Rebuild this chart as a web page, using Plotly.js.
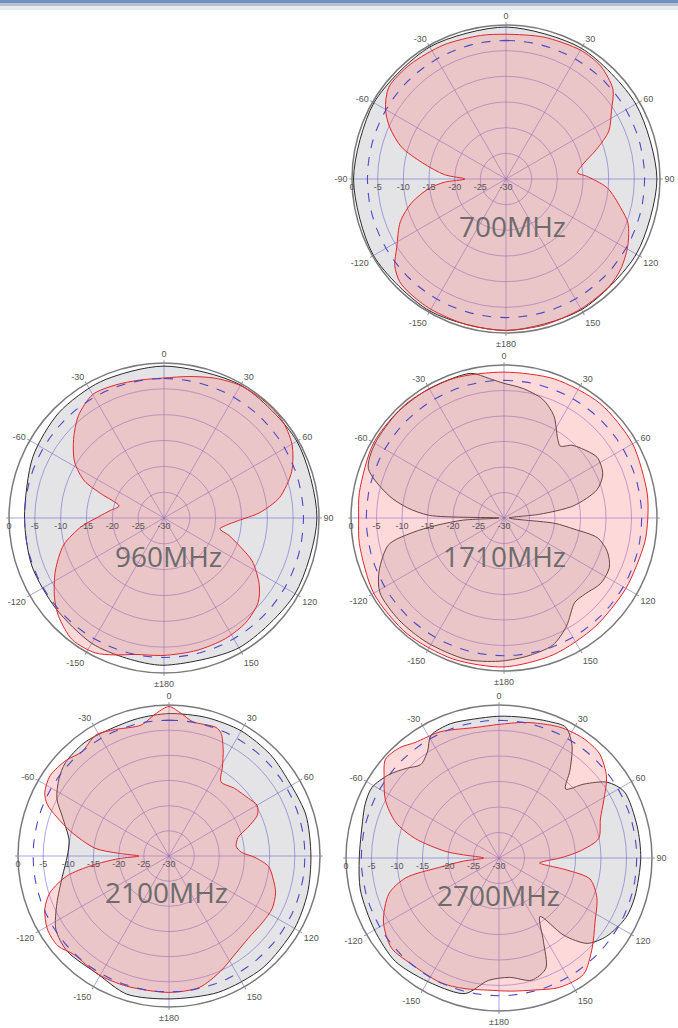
<!DOCTYPE html>
<html>
<head>
<meta charset="utf-8">
<script src="https://cdn.plot.ly/plotly-3.0.1.min.js"></script>
<style>
  html, body { margin: 0; padding: 0; background: #ffffff; }
  #chart { width: 678px; height: 1028px; }
</style>
</head>
<body>
<div id="chart"></div>
<script>
// ---------- tick labels ----------
const angTickVals = [0, 30, 60, 90, 120, 150, 180, 210, 240, 270, 300, 330];
const angText700  = ['0', '30', '60', '90', '120', '150', '\u00b1180', '-150', '-120', '-90', '-60', '-30'];
const angText960  = ['0', '30', '60', '90', '120', '150', '\u00b1180', '-150', '-120', '', '-60', '-30'];
const angText1710 = ['0', '30', '60', '', '120', '150', '\u00b1180', '-150', '-120', '', '-60', '-30'];
const angText2100 = ['0', '30', '60', '', '120', '150', '\u00b1180', '-150', '-120', '', '-60', '-30'];
const angText2700 = ['0', '30', '60', '90', '120', '150', '\u00b1180', '-150', '-120', '', '-60', '-30'];
const radTickVals = [0, -5, -10, -15, -20, -25, -30];
const radTickText = ['0', '-5', '-10', '-15', '-20', '-25', '-30'];
const refLevelDb = -3;
const bandLabels = ['700MHz', '960MHz', '1710MHz', '2100MHz', '2700MHz'];

// ---------- 700 MHz ----------
const theta700Grey = [0, 30, 60, 90, 120, 150, 180, 210, 240, 270, 300, 330];
const r700Grey     = [-0.4, -0.6, -0.8, -0.6, -0.7, -0.6, -0.5, -0.3, -0.2, -0.3, -0.3, -0.3];
const theta700Red = [0, 15, 30, 40, 50, 57, 65, 72, 79, 85, 88, 95, 104, 110, 119, 128, 136, 150, 165, 180,
                     195, 210, 220, 226, 232, 238, 248, 256, 263, 267, 270, 274, 281, 287, 294, 300, 308, 320, 335, 350];
const r700Red     = [-1.8, -1.4, -1.0, -1.3, -2.8, -5.5, -7.9, -11.5, -14.7, -16.0, -14.3, -10.2, -7.0, -4.7, -2.9, -1.6, -1.0, -0.8, -0.6, -0.5,
                     -0.6, -0.7, -0.9, -1.2, -2.5, -4.9, -7.8, -11.1, -14.9, -18.0, -22.0, -18.0, -13.4, -8.7, -5.2, -2.9, -1.0, -0.9, -1.2, -1.6];

// ---------- 960 MHz ----------
const theta960Grey = [0, 30, 60, 90, 120, 150, 180, 195, 210, 230, 250, 270, 295, 315, 335];
const r960Grey     = [-0.6, -0.3, -0.3, -0.4, -0.7, -1.0, -1.5, -1.9, -2.0, -2.7, -2.8, -3.0, -2.0, -1.2, -0.9];
const theta960Red = [0, 10, 20, 30, 40, 50, 60, 70, 80, 87, 92, 97, 101, 105, 110, 116, 125, 132, 142, 153, 166, 180,
                     192, 200, 207, 217, 227, 234, 244, 255, 264, 271, 278, 285, 291, 295, 302, 311, 320, 330, 340, 350];
const r960Red     = [-2.9, -2.2, -1.2, -0.4, -0.2, -0.3, -1.4, -3.7, -7.3, -11.6, -15.6, -18.0, -19.0, -17.0, -14.6, -11.0, -7.5, -5.5, -4.3, -3.8, -3.6, -3.4,
                     -3.0, -1.8, -0.7, -0.5, -2.1, -3.8, -6.6, -9.9, -13.9, -17.3, -19.5, -21.0, -17.0, -13.0, -9.6, -6.8, -4.2, -2.4, -2.6, -2.9];

// ---------- 1710 MHz ----------
const theta1710Grey = [0, 8, 18, 26, 34, 38, 43, 48, 57, 66, 73, 80, 84, 90, 96, 99, 102, 108, 115, 124, 133, 140, 150, 159, 171, 182,
                       195, 212, 226, 239, 247, 257, 261, 264, 267, 270, 272, 276, 281, 290, 300, 315, 330, 347, 354];
const r1710Grey     = [-3.6, -4.3, -5.5, -7.7, -11.2, -12.1, -10.5, -9.6, -8.2, -8.8, -10.9, -16.1, -23.0, -29.0, -20.0, -16.1, -11.2, -8.7, -7.2, -7.1, -8.2, -8.4, -5.5, -3.3, -2.5, -1.9,
                       -1.3, -1.3, -1.3, -1.6, -3.4, -6.8, -11.9, -17.0, -22.0, -29.0, -15.4, -11.0, -7.0, -1.7, -0.8, -0.6, -0.7, -0.9, -2.5];
const theta1710Red = [0, 20, 40, 60, 80, 90, 100, 120, 140, 160, 180, 200, 220, 240, 260, 270, 280, 300, 320, 340];
const r1710Red     = [-1.4, -1.0, -0.7, -0.9, -1.5, -1.8, -2.0, -2.4, -2.2, -1.5, -0.8, -0.6, -0.4, -0.5, -1.2, -1.5, -1.2, -0.5, -0.5, -0.9];

// ---------- 2100 MHz ----------
const theta2100Grey = [0, 15, 30, 45, 55, 73, 90, 105, 120, 140, 160, 180, 197, 211, 227, 237, 247, 259, 270, 279, 290, 297, 305, 312, 323, 334, 347];
const r2100Grey     = [-1.7, -1.5, -1.3, -1.5, -1.9, -1.6, -1.8, -1.5, -1.2, -1.0, -1.2, -1.6, -1.3, -2.6, -2.3, -3.2, -5.8, -8.4, -9.8, -9.9, -7.5, -5.0, -3.3, -2.3, -1.9, -2.2, -2.0];
const theta2100Red = [0, 5, 10, 20, 23, 27, 31, 35, 44, 54, 60, 65, 70, 75, 82, 87, 91, 96, 103, 109, 117, 125, 136, 146, 156, 167, 180,
                      198, 211, 224, 231, 239, 247, 253, 259, 263, 267, 270, 273, 276, 284, 289, 293, 297, 304, 313, 320, 329, 337, 348, 355];
const r2100Red     = [-0.3, -1.6, -2.9, -2.8, -3.5, -6.3, -9.4, -12.0, -11.3, -10.5, -9.8, -10.6, -13.3, -15.8, -16.5, -15.6, -12.9, -10.1, -8.7, -7.6, -7.0, -7.2, -7.3, -6.5, -4.9, -3.2, -2.9,
                      -2.8, -2.6, -2.8, -1.6, -1.8, -3.2, -5.3, -9.4, -14.5, -20.0, -24.0, -20.0, -15.2, -9.9, -6.5, -3.7, -2.3, -1.5, -2.1, -3.0, -1.9, -2.7, -3.4, -1.5];

// ---------- 2700 MHz ----------
const theta2700Grey = [0, 10, 20, 27, 33, 39, 44, 49, 55, 62, 77, 90, 106, 115, 126, 134, 140, 145, 152, 157, 165, 175, 185, 194, 208, 225,
                       240, 257, 270, 285, 292, 299, 307, 314, 320, 326, 331, 340, 349];
const r2700Grey     = [-2.2, -2.0, -1.5, -1.2, -3.7, -7.9, -11.2, -7.9, -4.1, -2.2, -2.2, -2.2, -2.3, -2.5, -3.9, -5.9, -10.2, -16.0, -11.4, -6.5, -5.2, -6.5, -5.9, -2.6, -2.1, -1.3,
                       -1.8, -2.1, -2.6, -2.3, -1.7, -1.5, -2.9, -4.7, -6.1, -4.9, -2.5, -2.0, -2.3];
const theta2700Red = [0, 10, 15, 25, 35, 44, 53, 61, 69, 79, 85, 90, 94, 97, 100, 103, 112, 124, 134, 144, 155, 165, 175, 185, 195, 205,
                      220, 230, 241, 252, 258, 261, 265, 270, 275, 277, 283, 289, 297, 305, 311, 318, 324, 335, 350];
const r2700Red     = [-3.8, -3.0, -2.6, -1.7, -1.3, -1.6, -3.6, -6.5, -8.7, -10.1, -14.0, -18.0, -21.0, -22.0, -16.6, -11.7, -9.3, -7.3, -4.6, -1.8, -2.0, -3.2, -3.8, -4.0, -3.5, -3.0,
                      -3.0, -2.5, -4.1, -7.3, -11.3, -18.0, -23.0, -27.0, -23.0, -19.5, -13.2, -8.6, -5.0, -2.5, -0.5, -0.9, -2.0, -2.7, -4.0];

// ---------- layout geometry (pixels in the 678x1028 page) ----------
const W = 678, H = 1028;
const plots = [
  {cx: 506, cy: 179, R: 154, grey: [theta700Grey, r700Grey],   red: [theta700Red, r700Red],   ang: angText700,  lx: 512, ly: 226},
  {cx: 164, cy: 518, R: 155, grey: [theta960Grey, r960Grey],   red: [theta960Red, r960Red],   ang: angText960,  lx: 168, ly: 556},
  {cx: 504, cy: 518, R: 153, grey: [theta1710Grey, r1710Grey], red: [theta1710Red, r1710Red], ang: angText1710, lx: 504, ly: 556},
  {cx: 169, cy: 856, R: 151, grey: [theta2100Grey, r2100Grey], red: [theta2100Red, r2100Red], ang: angText2100, lx: 166, ly: 892},
  {cx: 499, cy: 858, R: 153, grey: [theta2700Grey, r2700Grey], red: [theta2700Red, r2700Red], ang: angText2700, lx: 498, ly: 895}
];

function closeLoop(a) { return a.concat([a[0]]); }

// reference circle angles (geometry helper for the -3 dB ring)
const ringTheta = [];
for (let a = 0; a <= 360; a += 5) ringTheta.push(a);
const ringR = ringTheta.map(() => refLevelDb);

const gridCol = 'rgba(100,90,215,0.55)';
const tickFont = {size: 9, color: '#555', family: 'Liberation Sans, Arial, sans-serif'};
const data = [];
const layout = {
  width: W, height: H,
  margin: {l: 0, r: 0, t: 0, b: 0},
  paper_bgcolor: '#ffffff',
  showlegend: false,
  font: {family: 'Liberation Sans, Arial, sans-serif', color: '#555'},
  annotations: [],
  shapes: [
    {type: 'rect', xref: 'paper', yref: 'paper', x0: 0, x1: 1, y0: 1 - 3 / H, y1: 1, fillcolor: '#7090c0', line: {width: 0}},
    {type: 'rect', xref: 'paper', yref: 'paper', x0: 0, x1: 1, y0: 1 - 6 / H, y1: 1 - 3 / H, fillcolor: '#b8c2cf', line: {width: 0}},
    {type: 'rect', xref: 'paper', yref: 'paper', x0: 0, x1: 1, y0: 1 - 10 / H, y1: 1 - 6 / H, fillcolor: '#e6e9ed', line: {width: 0}}
  ]
};

plots.forEach((p, i) => {
  const key = i === 0 ? 'polar' : 'polar' + (i + 1);
  layout[key] = {
    domain: {
      x: [(p.cx - p.R) / W, (p.cx + p.R) / W],
      y: [1 - (p.cy + p.R) / H, 1 - (p.cy - p.R) / H]
    },
    bgcolor: '#ffffff',
    angularaxis: {
      rotation: 90, direction: 'clockwise',
      tickmode: 'array', tickvals: angTickVals, ticktext: p.ang,
      tickfont: tickFont,
      gridcolor: gridCol, gridwidth: 1,
      showline: true, linecolor: '#7a7a7a', linewidth: 1.5,
      ticks: 'outside', ticklen: 2, tickcolor: '#888'
    },
    radialaxis: {
      range: [-30, 0],
      tickmode: 'array', tickvals: radTickVals, ticktext: radTickText,
      angle: 180, side: 'counterclockwise', tickangle: 180,
      tickfont: tickFont,
      gridcolor: gridCol, gridwidth: 1,
      showline: false, ticks: ''
    }
  };
  data.push({
    type: 'scatterpolar', subplot: key, mode: 'lines',
    theta: closeLoop(p.grey[0]), r: closeLoop(p.grey[1]),
    fill: 'toself', fillcolor: 'rgba(120,120,135,0.2)',
    line: {color: '#2b2b2b', width: 1, shape: 'spline', smoothing: 0.8},
    hoverinfo: 'skip'
  });
  data.push({
    type: 'scatterpolar', subplot: key, mode: 'lines',
    theta: closeLoop(p.red[0]), r: closeLoop(p.red[1]),
    fill: 'toself', fillcolor: 'rgba(250,130,130,0.3)',
    line: {color: '#e0282a', width: 1, shape: 'spline', smoothing: 0.8},
    hoverinfo: 'skip'
  });
  data.push({
    type: 'scatterpolar', subplot: key, mode: 'lines',
    theta: ringTheta, r: ringR,
    line: {color: '#4a48c8', width: 1.1, dash: 'dash'},
    hoverinfo: 'skip'
  });
  layout.annotations.push({
    xref: 'paper', yref: 'paper', x: p.lx / W, y: 1 - p.ly / H,
    xanchor: 'center', yanchor: 'middle', showarrow: false,
    text: bandLabels[i],
    font: {family: 'Open Sans, Noto Sans, sans-serif', size: 28, color: '#6c6c6c'}
  });
});

Plotly.newPlot('chart', data, layout, {staticPlot: true, displayModeBar: false});
</script>
</body>
</html>
